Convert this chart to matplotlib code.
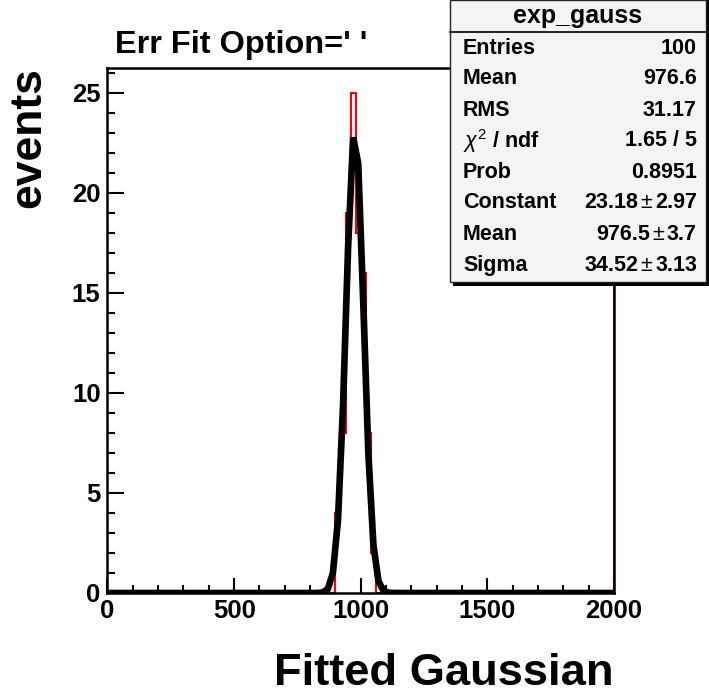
import numpy as np
import matplotlib
matplotlib.use("Agg")
import matplotlib.pyplot as plt
from matplotlib.patches import Rectangle
from matplotlib.lines import Line2D
from matplotlib.ticker import MultipleLocator

plt.rcParams['font.family'] = ['Liberation Sans', 'DejaVu Sans']
plt.rcParams['mathtext.fontset'] = 'custom'
plt.rcParams['mathtext.rm'] = 'Liberation Sans'
plt.rcParams['mathtext.it'] = 'Liberation Sans:italic'
plt.rcParams['mathtext.bf'] = 'Liberation Sans:bold'

# ---------------- data ----------------
bin_edges_lo = 0.0
bin_edges_hi = 2000.0
n_bins = 100
filled_bin_low_edges = [900, 920, 940, 960, 980, 1000, 1020, 1040]
filled_bin_counts = [4, 8, 19, 25, 18, 16, 8, 2]

fit_constant = 23.18
fit_mean = 976.5
fit_sigma = 34.52

title_text = "Err Fit Option=' '"
x_title = "Fitted Gaussian"
y_title = "events"
x_ticks = [0, 500, 1000, 1500, 2000]
y_ticks = [0, 5, 10, 15, 20, 25]

stats_name = "exp_gauss"
stat_labels = ["Entries", "Mean", "RMS", r"$\chi^{2}$ / ndf", "Prob", "Constant", "Mean", "Sigma"]
stat_values = ["100", "976.6", "31.17", "1.65 / 5", "0.8951", "23.18", "976.5", "34.52"]
stat_errors = [None, None, None, None, None, "2.97", "3.7", "3.13"]

# ---------------- figure ----------------
W, H = 709, 695
fig = plt.figure(figsize=(W / 100, H / 100), dpi=100)
fig.patch.set_facecolor('white')

def fx(x):
    return x / W

def fy(y):
    return 1 - y / H

ax_l, ax_r, ax_t, ax_b = 107.5, 614, 67.7, 593
ax = fig.add_axes([fx(ax_l), fy(ax_b), (ax_r - ax_l) / W, (ax_b - ax_t) / H])

# histogram
edges = np.linspace(bin_edges_lo, bin_edges_hi, n_bins + 1)
counts = np.zeros(n_bins)
width = (bin_edges_hi - bin_edges_lo) / n_bins
for lo, c in zip(filled_bin_low_edges, filled_bin_counts):
    counts[int(round((lo - bin_edges_lo) / width))] = c
ax.stairs(counts, edges, color='red', linewidth=1.5, zorder=2)
ax.plot([bin_edges_hi, bin_edges_hi], [0, 26.25], color='red', linewidth=1.5, zorder=2)

# fitted gaussian, sampled at bin centres as ROOT does
centers = 0.5 * (edges[:-1] + edges[1:])
xs = np.concatenate([[bin_edges_lo], centers, [bin_edges_hi]])
ys = fit_constant * np.exp(-0.5 * ((xs - fit_mean) / fit_sigma) ** 2)
ax.plot(xs, ys, color='black', linewidth=4.8, solid_joinstyle='miter', zorder=3)

ax.set_xlim(bin_edges_lo, bin_edges_hi)
ax.set_ylim(0, 26.25)

for s in ['top', 'right', 'left', 'bottom']:
    ax.spines[s].set_linewidth(1.8)
    ax.spines[s].set_color('black')

ax.set_xticks(x_ticks)
ax.set_yticks(y_ticks)
ax.xaxis.set_minor_locator(MultipleLocator(100))
ax.yaxis.set_minor_locator(MultipleLocator(1))
ax.tick_params(which='both', direction='in', top=False, right=False, width=1.5, color='black')
ax.tick_params(axis='x', which='major', length=11, pad=4)
ax.tick_params(axis='x', which='minor', length=5.5)
ax.tick_params(axis='y', which='major', length=12, pad=5)
ax.tick_params(axis='y', which='minor', length=6)
ax.set_xticklabels([str(t) for t in x_ticks], fontsize=18.5, fontweight='bold')
ax.set_yticklabels([str(t) for t in y_ticks], fontsize=18.5, fontweight='bold')

# titles
fig.text(fx(115), fy(53), title_text, fontsize=23.4, fontweight='bold', ha='left', va='baseline')
fig.text(fx(613), fy(685), x_title, fontsize=32.6, fontweight='bold', ha='right', va='baseline')
fig.text(fx(29), fy(138), y_title, fontsize=32, fontweight='bold', ha='center', va='center',
         rotation=90)

# stats box
bx0, bx1, by0, by1 = 450, 706, 0, 282
fig.add_artist(Rectangle((fx(bx0 + 3), fy(by1 + 4)), (bx1 - bx0) / W, (by1 - by0 + 4) / H,
                         transform=fig.transFigure, facecolor='black', edgecolor='none', zorder=10))
fig.add_artist(Rectangle((fx(bx0), fy(by1)), (bx1 - bx0) / W, (by1 - by0) / H,
                         transform=fig.transFigure, facecolor='#f4f4f4', edgecolor='#222222',
                         linewidth=1.0, zorder=11))
fig.add_artist(Line2D([fx(bx0), fx(bx1)], [fy(32), fy(32)], transform=fig.transFigure,
                      color='black', linewidth=1.2, zorder=12))
fig.text(fx((bx0 + bx1) / 2), fy(16), stats_name, fontsize=18, fontweight='bold',
         ha='center', va='center', zorder=13)

row_y0, row_dy = 48, 31
fs = 15.5
fig.canvas.draw()
renderer = fig.canvas.get_renderer()
for i, (lab, val, err) in enumerate(zip(stat_labels, stat_values, stat_errors)):
    y = fy(row_y0 + i * row_dy)
    fig.text(fx(463), y, lab, fontsize=fs, fontweight='bold', ha='left', va='center', zorder=13)
    if err is None:
        fig.text(fx(697), y, val, fontsize=fs, fontweight='bold', ha='right', va='center', zorder=13)
    else:
        t_err = fig.text(fx(697), y, err, fontsize=fs, fontweight='bold', ha='right', va='center', zorder=13)
        bb = t_err.get_window_extent(renderer)
        pm_right = bb.x0 - 3
        t_pm = fig.text(pm_right / W, y, "\u00b1", fontsize=fs, fontweight='normal', ha='right',
                        va='center', zorder=13)
        bb2 = t_pm.get_window_extent(renderer)
        fig.text((bb2.x0 - 2) / W, y, val, fontsize=fs, fontweight='bold', ha='right',
                 va='center', zorder=13)

fig.savefig("out.png", dpi=100)
